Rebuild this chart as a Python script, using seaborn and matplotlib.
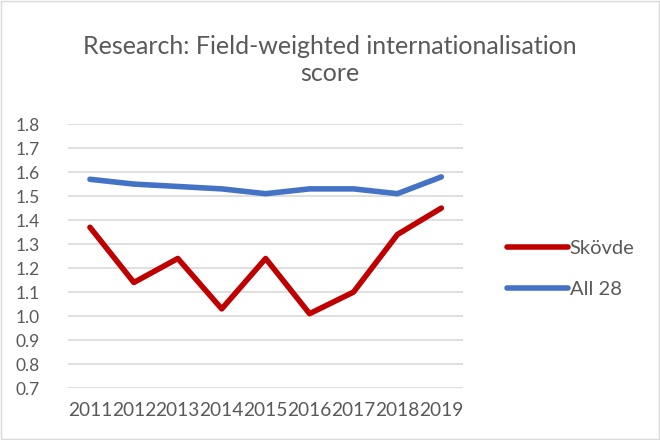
import matplotlib.pyplot as plt
import matplotlib.patches as mpatches
import seaborn as sns
import pandas as pd

years = ['2011', '2012', '2013', '2014', '2015', '2016', '2017', '2018', '2019']
skovde = [1.37, 1.14, 1.24, 1.03, 1.24, 1.01, 1.10, 1.34, 1.45]
all28 = [1.57, 1.55, 1.54, 1.53, 1.51, 1.53, 1.53, 1.51, 1.58]
yticks = [0.7, 0.8, 0.9, 1.0, 1.1, 1.2, 1.3, 1.4, 1.5, 1.6, 1.7, 1.8]

df = pd.DataFrame({
    'Year': years * 2,
    'Score': skovde + all28,
    'Series': ['Skövde'] * len(years) + ['All 28'] * len(years),
})

sns.set_theme(style='white')
plt.rcParams['font.family'] = ['Lato', 'DejaVu Sans']
text_col = '#595959'

fig = plt.figure(figsize=(6.6, 4.4), dpi=100)
ax = fig.add_axes([0.103, 0.118, 0.599, 0.600])
sns.lineplot(data=df, x='Year', y='Score', hue='Series', sort=False,
             palette={'Skövde': '#C00000', 'All 28': '#4472C4'},
             linewidth=4, ax=ax, legend=True)

ax.set_xlim(-0.5, len(years) - 0.5)
ax.set_ylim(0.7, 1.8)
ax.set_yticks(yticks)
ax.set_yticklabels([f'{v:.1f}' for v in yticks], fontsize=12.5, color=text_col)
ax.set_xticks(range(len(years)))
ax.set_xticklabels(years, fontsize=13.8, color=text_col)
ax.tick_params(axis='both', length=0, pad=10)
ax.tick_params(axis='y', pad=20)
ax.grid(axis='y', color='#D9D9D9', linewidth=1.2)
ax.set_axisbelow(True)
for s in ax.spines.values():
    s.set_visible(False)
ax.set_xlabel('')
ax.set_ylabel('')

leg = ax.legend(loc='center left', bbox_to_anchor=(1.065, 0.45), frameon=False,
                fontsize=14.5, handlelength=3.0, handletextpad=0.1,
                labelspacing=1.2, labelcolor=text_col)
for line in leg.get_lines():
    line.set_linewidth(4)
    line.set_solid_capstyle('round')

fig.text(0.5, 0.864, 'Research: Field-weighted internationalisation\nscore',
         ha='center', va='center', fontsize=18, color=text_col, linespacing=1.2)

fig.patches.append(mpatches.Rectangle((0.002, 0.003), 0.996, 0.994, transform=fig.transFigure,
                                      fill=False, edgecolor='#D9D9D9', linewidth=1))

fig.savefig('out.png', dpi=100)
